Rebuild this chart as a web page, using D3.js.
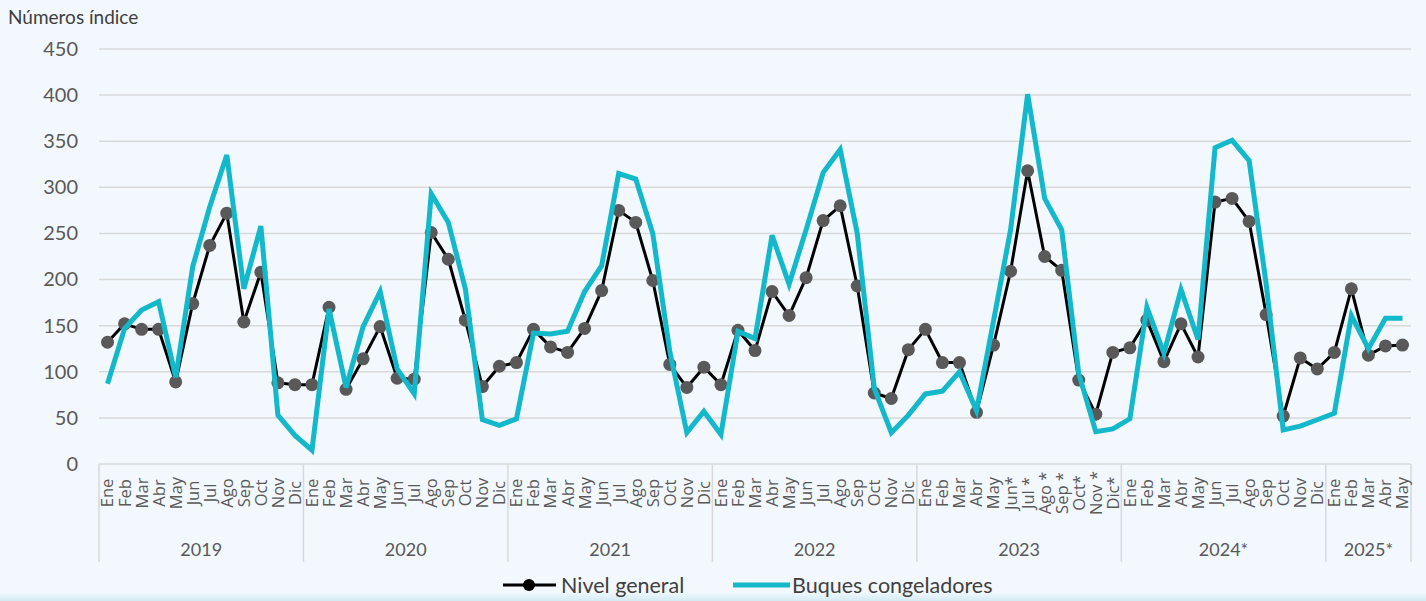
<!DOCTYPE html>
<html>
<head>
<meta charset="utf-8">
<script src="https://cdn.jsdelivr.net/npm/d3@7"></script>
<style>
  html, body { margin: 0; padding: 0; background: #F2F8FE; }
  svg { display: block; }
  text { font-family: Lato, "Open Sans", sans-serif; fill: #595959; }
</style>
</head>
<body>
<svg id="chart" width="1426" height="601"></svg>
<script>
const months = ["Ene","Feb","Mar","Abr","May","Jun","Jul","Ago","Sep","Oct","Nov","Dic"];
const months2023 = ["Ene","Feb","Mar","Abr","May","Jun*","Jul *","Ago *","Sep *","Oct*","Nov *","Dic*"];
const years = ["2019","2020","2021","2022","2023","2024*","2025*"];
const yearCounts = [12,12,12,12,12,12,5];
const yTicks = [0,50,100,150,200,250,300,350,400,450];

const nivelGeneral = [
  132,152,146,146,89,174,237,272,154,208,88,86,
  86,170,81,114,149,93,92,251,222,156,84,106,
  110,146,127,121,147,188,275,262,199,108,83,105,
  86,145,123,187,161,202,264,280,193,77,71,124,
  146,110,110,56,129,209,318,225,210,91,54,121,
  126,156,111,152,116,284,288,263,162,52,115,103,
  121,190,118,128,129
];
const buquesCongeladores = [
  87,147,167,176,94,214,279,335,190,258,53,31,
  15,168,83,149,187,103,76,293,262,190,48,42,
  49,142,141,144,187,215,315,309,250,122,34,57,
  32,144,136,248,195,254,316,341,250,82,34,53,
  76,79,100,58,155,254,401,288,254,98,35,38,
  49,170,120,189,135,343,351,329,195,37,41,48,
  55,161,125,158,158
];

(function () {
const cats = [];
years.forEach((yr, yi) => {
  for (let m = 0; m < yearCounts[yi]; m++) {
    cats.push({ id: yr + "-" + m, label: yr === "2023" ? months2023[m] : months[m], year: yi });
  }
});

const svg = d3.select("#chart");
const pLeft = 99, pRight = 1411, pTop = 49, pBottom = 464;

const defs = svg.append("defs");
const grad = defs.append("linearGradient").attr("id", "bottomGrad").attr("x1", 0).attr("y1", 0).attr("x2", 0).attr("y2", 1);
grad.append("stop").attr("offset", "0%").attr("stop-color", "#F2F8FE");
grad.append("stop").attr("offset", "100%").attr("stop-color", "#D3EBF4");
svg.append("rect").attr("x", 0).attr("y", 592).attr("width", 1426).attr("height", 9).attr("fill", "url(#bottomGrad)");

const x = d3.scaleBand().domain(cats.map(d => d.id)).range([pLeft, pRight]).paddingInner(0).paddingOuter(0);
const cx = id => x(id) + x.bandwidth() / 2;
const y = d3.scaleLinear().domain([0, 450]).range([pBottom, pTop]);

svg.append("g").selectAll("line").data(yTicks.filter(t => t > 0)).join("line")
  .attr("x1", pLeft).attr("x2", pRight)
  .attr("y1", d => y(d)).attr("y2", d => y(d))
  .attr("stroke", "#D9D9D9").attr("stroke-width", 1.5);

const yAxis = d3.axisLeft(y).tickValues(yTicks).tickSize(0).tickPadding(0);
const yg = svg.append("g").attr("transform", `translate(78,0)`).call(yAxis);
yg.select(".domain").remove();
yg.selectAll("text").style("font-size", "20px").style("font-family", "Lato, sans-serif").attr("fill", "#595959");

svg.append("line").attr("x1", pLeft).attr("x2", pRight).attr("y1", pBottom).attr("y2", pBottom)
  .attr("stroke", "#D9D9D9").attr("stroke-width", 1.5);

const bounds = [0];
yearCounts.forEach((c, i) => bounds.push(bounds[i] + c));
svg.append("g").selectAll("line").data(bounds).join("line")
  .attr("x1", d => d < cats.length ? x(cats[d].id) : pRight)
  .attr("x2", d => d < cats.length ? x(cats[d].id) : pRight)
  .attr("y1", pBottom).attr("y2", 562)
  .attr("stroke", "#D9D9D9").attr("stroke-width", 1.5);

svg.append("g").selectAll("text").data(cats).join("text")
  .attr("transform", d => `translate(${cx(d.id)},493) rotate(-90)`)
  .attr("text-anchor", "middle").attr("dy", "0.36em")
  .style("font-size", "16.5px").style("font-family", "'Open Sans', sans-serif")
  .text(d => d.label);

svg.append("g").selectAll("text").data(years).join("text")
  .attr("x", (d, i) => {
    const a = x(cats[bounds[i]].id);
    const b = bounds[i + 1] < cats.length ? x(cats[bounds[i + 1]].id) : pRight;
    return (a + b) / 2;
  })
  .attr("y", 556).attr("text-anchor", "middle")
  .style("font-size", "18px")
  .text(d => d);

svg.append("text").attr("x", 8).attr("y", 24).style("font-size", "19px").style("fill", "#404040").text("Números índice");

const lineGen = data => d3.line().x((d, i) => cx(cats[i].id)).y(d => y(d))(data);

svg.append("path").attr("d", lineGen(nivelGeneral)).attr("fill", "none")
  .attr("stroke", "#000").attr("stroke-width", 3).attr("stroke-linejoin", "round");
svg.append("g").selectAll("circle").data(nivelGeneral).join("circle")
  .attr("cx", (d, i) => cx(cats[i].id)).attr("cy", d => y(d)).attr("r", 6.5)
  .attr("fill", "#595959");

svg.append("path").attr("d", lineGen(buquesCongeladores)).attr("fill", "none")
  .attr("stroke", "#13B8CA").attr("stroke-width", 5).attr("stroke-linejoin", "miter");

const lg = svg.append("g");
lg.append("line").attr("x1", 503).attr("x2", 556).attr("y1", 585).attr("y2", 585).attr("stroke", "#000").attr("stroke-width", 3);
lg.append("circle").attr("cx", 529).attr("cy", 585).attr("r", 6).attr("fill", "#000");
lg.append("text").attr("x", 561).attr("y", 585).attr("dy", "0.36em").style("font-size", "21.5px").style("fill", "#404040").text("Nivel general");
lg.append("line").attr("x1", 733).attr("x2", 790).attr("y1", 585).attr("y2", 585).attr("stroke", "#13B8CA").attr("stroke-width", 5);
lg.append("text").attr("x", 792).attr("y", 585).attr("dy", "0.36em").style("font-size", "21.5px").style("fill", "#404040").text("Buques congeladores");
})();
</script>
</body>
</html>
